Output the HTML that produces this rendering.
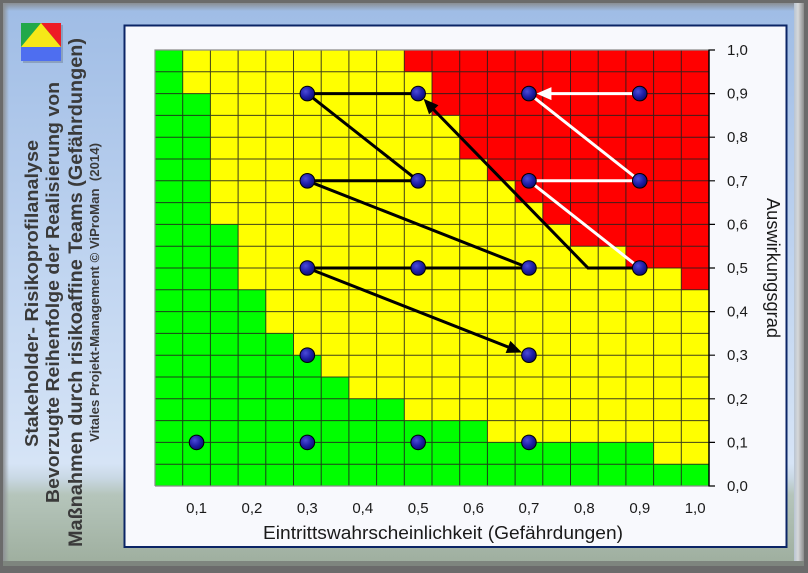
<!DOCTYPE html>
<html><head><meta charset="utf-8"><style>
html,body{margin:0;padding:0;background:#6b6b6b;}
svg{display:block;}
</style></head><body>
<svg width="808" height="573" viewBox="0 0 808 573" xmlns="http://www.w3.org/2000/svg">
<defs>
<linearGradient id="bg" x1="0" y1="0" x2="0" y2="1">
<stop offset="0" stop-color="#9fbce5"/>
<stop offset="0.5" stop-color="#c2d6f1"/>
<stop offset="0.82" stop-color="#d6e4f6"/>
<stop offset="0.845" stop-color="#c9d8e4"/>
<stop offset="0.875" stop-color="#b5c5bb"/>
<stop offset="1" stop-color="#9eae9e"/>
</linearGradient>
<linearGradient id="topb" x1="0" y1="0" x2="0" y2="1">
<stop offset="0" stop-color="#8a8e94"/>
<stop offset="1" stop-color="#8a8e94" stop-opacity="0"/>
</linearGradient>
<linearGradient id="rightb" x1="0" y1="0" x2="1" y2="0">
<stop offset="0" stop-color="#b8c4d2"/>
<stop offset="0.4" stop-color="#d6d8da"/>
<stop offset="1" stop-color="#8c8c8c"/>
</linearGradient>
<linearGradient id="leftb" x1="0" y1="0" x2="1" y2="0">
<stop offset="0" stop-color="#8e9296"/>
<stop offset="1" stop-color="#8e9296" stop-opacity="0"/>
</linearGradient>
<radialGradient id="dot" cx="0.38" cy="0.35" r="0.7">
<stop offset="0" stop-color="#4b4bd8"/>
<stop offset="0.55" stop-color="#1f1fa8"/>
<stop offset="1" stop-color="#0b0b6a"/>
</radialGradient>
</defs>

<!-- frame -->
<rect x="0" y="0" width="808" height="573" fill="#6b6b6b"/>
<rect x="3" y="3" width="800" height="562" fill="url(#bg)"/>
<rect x="3" y="3" width="800" height="8" fill="url(#topb)"/>
<rect x="3" y="3" width="6" height="562" fill="url(#leftb)"/>
<rect x="794" y="3" width="10" height="562" fill="url(#rightb)"/>
<rect x="3" y="561" width="801" height="5" fill="#7e857e"/>

<!-- logo -->
<rect x="23" y="25" width="40" height="38" fill="#6a7a90" opacity="0.45"/>
<rect x="21" y="23" width="40" height="24" fill="#22a84a"/>
<polygon points="41,23 61,23 61,47" fill="#ee1c25"/>
<polygon points="41,23 61,47 21,47" fill="#f6e818"/>
<rect x="21" y="47" width="40" height="14" fill="#4e6ef0"/>

<!-- left titles -->
<g font-family="Liberation Sans, sans-serif" font-weight="bold" fill="#3a3a3a">
<text transform="translate(38,447) rotate(-90)" font-size="18" textLength="307" lengthAdjust="spacingAndGlyphs">Stakeholder- Risikoprofilanalyse</text>
<text transform="translate(59,503) rotate(-90)" font-size="18" textLength="421" lengthAdjust="spacingAndGlyphs">Bevorzugte Reihenfolge der Realisierung von</text>
<text transform="translate(82,547) rotate(-90)" font-size="19" textLength="509" lengthAdjust="spacingAndGlyphs">Maßnahmen durch risikoaffine Teams (Gefährdungen)</text>
<text transform="translate(99,442) rotate(-90)" font-size="12.5" textLength="299" lengthAdjust="spacingAndGlyphs" xml:space="preserve">Vitales Projekt-Management © ViProMan  (2014)</text>
</g>

<!-- panel -->
<rect x="124.5" y="25.5" width="662" height="521.5" fill="#f8f9fd" stroke="#0b2566" stroke-width="2"/>

<!-- plot cells -->
<rect x="155" y="50" width="554" height="436" fill="#ffff00"/>
<g fill="#00ff00">
<rect x="155" y="50" width="27.7" height="43.6"/>
<rect x="155" y="93.6" width="55.4" height="130.8"/>
<rect x="155" y="224.4" width="83.1" height="65.4"/>
<rect x="155" y="289.8" width="110.8" height="43.6"/>
<rect x="155" y="333.4" width="138.5" height="21.8"/>
<rect x="155" y="355.2" width="166.2" height="21.8"/>
<rect x="155" y="377" width="193.9" height="21.8"/>
<rect x="155" y="398.8" width="249.3" height="21.8"/>
<rect x="155" y="420.6" width="332.4" height="21.8"/>
<rect x="155" y="442.4" width="498.6" height="21.8"/>
<rect x="155" y="464.2" width="554" height="21.8"/>
</g>
<g fill="#ff0000">
<rect x="404.3" y="50" width="304.7" height="21.8"/>
<rect x="432" y="71.8" width="277" height="43.6"/>
<rect x="459.7" y="115.4" width="249.3" height="43.6"/>
<rect x="487.4" y="159" width="221.6" height="21.8"/>
<rect x="515.1" y="180.8" width="193.9" height="21.8"/>
<rect x="542.8" y="202.6" width="166.2" height="21.8"/>
<rect x="570.5" y="224.4" width="138.5" height="21.8"/>
<rect x="625.9" y="246.2" width="83.1" height="21.8"/>
<rect x="681.3" y="268" width="27.7" height="21.8"/>
</g>

<!-- grid lines -->
<path fill="none" stroke="#1e1e1e" stroke-width="1" opacity="0.85" d="
M182.7 50V486M210.4 50V486M238.1 50V486M265.8 50V486M293.5 50V486M321.2 50V486M348.9 50V486M376.6 50V486M404.3 50V486M432 50V486
M459.7 50V486M487.4 50V486M515.1 50V486M542.8 50V486M570.5 50V486M598.2 50V486M625.9 50V486M653.6 50V486M681.3 50V486
M155 71.8H709M155 93.6H709M155 115.4H709M155 137.2H709M155 159H709M155 180.8H709M155 202.6H709M155 224.4H709M155 246.2H709M155 268H709
M155 289.8H709M155 311.6H709M155 333.4H709M155 355.2H709M155 377H709M155 398.8H709M155 420.6H709M155 442.4H709M155 464.2H709"/>
<path fill="none" stroke="#8a8a8a" stroke-width="1.2" d="M155 486V50H709M155 486H709"/>
<path fill="none" stroke="#000" stroke-width="1.5" d="M709 49.5V486.5"/>
<path fill="none" stroke="#000" stroke-width="1.2" d="M709 50H715M709 93.6H715M709 137.2H715M709 180.8H715M709 224.4H715M709 268H715M709 311.6H715M709 355.2H715M709 398.8H715M709 442.4H715M709 486H715"/>

<!-- tick labels -->
<g font-family="Liberation Sans, sans-serif" font-size="15" fill="#1a1a1a">
<text x="727" y="55">1,0</text>
<text x="727" y="98.6">0,9</text>
<text x="727" y="142.2">0,8</text>
<text x="727" y="185.8">0,7</text>
<text x="727" y="229.4">0,6</text>
<text x="727" y="273">0,5</text>
<text x="727" y="316.6">0,4</text>
<text x="727" y="360.2">0,3</text>
<text x="727" y="403.8">0,2</text>
<text x="727" y="447.4">0,1</text>
<text x="727" y="491">0,0</text>
<g text-anchor="middle">
<text x="196.55" y="513">0,1</text>
<text x="251.95" y="513">0,2</text>
<text x="307.35" y="513">0,3</text>
<text x="362.75" y="513">0,4</text>
<text x="418.15" y="513">0,5</text>
<text x="473.55" y="513">0,6</text>
<text x="528.95" y="513">0,7</text>
<text x="584.35" y="513">0,8</text>
<text x="639.75" y="513">0,9</text>
<text x="695.15" y="513">1,0</text>
</g>
</g>
<text x="263" y="539" font-family="Liberation Sans, sans-serif" font-size="18" fill="#1a1a1a" textLength="360" lengthAdjust="spacingAndGlyphs">Eintrittswahrscheinlichkeit (Gefährdungen)</text>
<text transform="translate(767,268) rotate(90)" text-anchor="middle" font-family="Liberation Sans, sans-serif" font-size="18" fill="#1a1a1a" textLength="140" lengthAdjust="spacingAndGlyphs">Auswirkungsgrad</text>

<!-- black lines -->
<g stroke="#000" stroke-width="3" fill="none" stroke-linecap="butt">
<path d="M307.35 93.6H418.15"/>
<path d="M307.35 93.6L418.15 180.8"/>
<path d="M307.35 180.8H418.15"/>
<path d="M307.35 180.8L528.95 268"/>
<path d="M307.35 268H528.95"/>
<path d="M307.35 268L509 347.4"/>
<path d="M639.75 268H588L433 109"/>
</g>
<polygon points="521.97,352.45 505.63,353.01 510.39,340.91" fill="#000"/>
<polygon points="423.6,98.8 438.43,105.3 429.07,114.32" fill="#000"/>

<!-- white lines -->
<g stroke="#fff" stroke-width="3" fill="none">
<path d="M639.75 93.6H550"/>
<path d="M528.95 93.6L639.75 180.8"/>
<path d="M639.75 180.8H528.95"/>
<path d="M528.95 180.8L639.75 268"/>
</g>
<polygon points="536.45,93.6 551.45,87.1 551.45,100.1" fill="#fff"/>

<!-- dots -->
<g fill="url(#dot)" stroke="#000" stroke-width="1">
<circle cx="307.35" cy="93.6" r="7.3"/>
<circle cx="418.15" cy="93.6" r="7.3"/>
<circle cx="528.95" cy="93.6" r="7.3"/>
<circle cx="639.75" cy="93.6" r="7.3"/>
<circle cx="307.35" cy="180.8" r="7.3"/>
<circle cx="418.15" cy="180.8" r="7.3"/>
<circle cx="528.95" cy="180.8" r="7.3"/>
<circle cx="639.75" cy="180.8" r="7.3"/>
<circle cx="307.35" cy="268" r="7.3"/>
<circle cx="418.15" cy="268" r="7.3"/>
<circle cx="528.95" cy="268" r="7.3"/>
<circle cx="639.75" cy="268" r="7.3"/>
<circle cx="307.35" cy="355.2" r="7.3"/>
<circle cx="528.95" cy="355.2" r="7.3"/>
<circle cx="196.55" cy="442.4" r="7.3"/>
<circle cx="307.35" cy="442.4" r="7.3"/>
<circle cx="418.15" cy="442.4" r="7.3"/>
<circle cx="528.95" cy="442.4" r="7.3"/>
</g>
</svg>
</body></html>
